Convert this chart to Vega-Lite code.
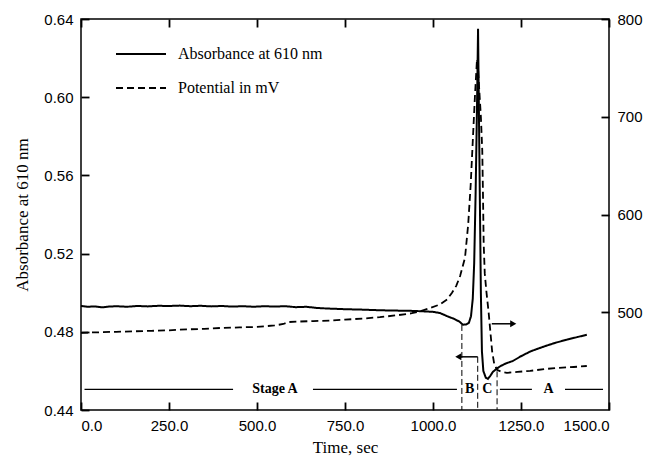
{
"$schema": "https://vega.github.io/schema/vega-lite/v6.json",
"width": 528, "height": 391, "autosize": "none",
"padding": {"left": 81, "top": 19, "right": 39, "bottom": 49},
"config": {
  "view": {"stroke": "black", "strokeWidth": 1.5},
  "axis": {"grid": false, "domain": false, "offset": -8,
           "labelFont": "Liberation Sans", "labelFontSize": 15, "labelColor": "black", "labelPadding": 8,
           "titleFont": "Liberation Serif", "titleFontSize": 17, "titleFontWeight": "normal", "titleColor": "black"},
  "legend": {"padding": 0}
},
"datasets": {
  "abs": [
    {"t":0,"a":0.4932},{"t":20,"a":0.4928},{"t":40,"a":0.4930},{"t":60,"a":0.4925},{"t":80,"a":0.4929},{"t":100,"a":0.4931},{"t":130,"a":0.4928},{"t":160,"a":0.4932},{"t":190,"a":0.4930},{"t":220,"a":0.4933},{"t":250,"a":0.4932},{"t":280,"a":0.4934},{"t":310,"a":0.4931},{"t":340,"a":0.4933},{"t":370,"a":0.4930},{"t":400,"a":0.4932},{"t":430,"a":0.4929},{"t":460,"a":0.4931},{"t":490,"a":0.4928},{"t":520,"a":0.4931},{"t":550,"a":0.4929},{"t":580,"a":0.4931},{"t":610,"a":0.4926},{"t":640,"a":0.4928},{"t":670,"a":0.4922},{"t":700,"a":0.4919},{"t":730,"a":0.4917},{"t":760,"a":0.4915},{"t":790,"a":0.4914},{"t":820,"a":0.4912},{"t":850,"a":0.4910},{"t":880,"a":0.4909},{"t":910,"a":0.4908},{"t":940,"a":0.4907},{"t":970,"a":0.4905},{"t":1000,"a":0.4902},{"t":1020,"a":0.4896},{"t":1040,"a":0.4880},{"t":1060,"a":0.4866},{"t":1075,"a":0.4852},{"t":1085,"a":0.4836},{"t":1095,"a":0.4838},{"t":1102,"a":0.4846},{"t":1108,"a":0.4880},{"t":1113,"a":0.4970},{"t":1117,"a":0.5150},{"t":1121,"a":0.5500},{"t":1125,"a":0.5950},{"t":1128,"a":0.6350},{"t":1130,"a":0.6000},{"t":1133,"a":0.5500},{"t":1136,"a":0.5000},{"t":1139,"a":0.4700},{"t":1143,"a":0.4600},{"t":1150,"a":0.4565},{"t":1156,"a":0.4559},{"t":1163,"a":0.4575},{"t":1170,"a":0.4595},{"t":1180,"a":0.4610},{"t":1192,"a":0.4625},{"t":1207,"a":0.4638},{"t":1227,"a":0.4651},{"t":1250,"a":0.4675},{"t":1276,"a":0.4699},{"t":1300,"a":0.4715},{"t":1324,"a":0.4730},{"t":1350,"a":0.4745},{"t":1381,"a":0.4760},{"t":1410,"a":0.4773},{"t":1437,"a":0.4785}
  ],
  "pot": [
    {"t":0,"v":479},{"t":50,"v":479.5},{"t":100,"v":480},{"t":150,"v":480.5},{"t":200,"v":481},{"t":250,"v":481.5},{"t":300,"v":482.5},{"t":350,"v":483},{"t":400,"v":484},{"t":450,"v":484.5},{"t":500,"v":485},{"t":550,"v":486.5},{"t":575,"v":488},{"t":590,"v":490},{"t":620,"v":490.5},{"t":660,"v":491},{"t":707,"v":491.5},{"t":750,"v":492.5},{"t":800,"v":493.5},{"t":849,"v":495},{"t":900,"v":497},{"t":940,"v":499},{"t":963,"v":501},{"t":990,"v":504},{"t":1020,"v":508},{"t":1040,"v":513},{"t":1054,"v":520},{"t":1066,"v":527},{"t":1077,"v":537},{"t":1091,"v":556},{"t":1100,"v":590},{"t":1107,"v":630},{"t":1113,"v":675},{"t":1119,"v":720},{"t":1125,"v":759},{"t":1127,"v":755},{"t":1131,"v":730},{"t":1136,"v":700},{"t":1140,"v":665},{"t":1142,"v":620},{"t":1144,"v":570},{"t":1147,"v":540},{"t":1152,"v":520},{"t":1158,"v":500},{"t":1163,"v":480},{"t":1168,"v":460},{"t":1174,"v":447},{"t":1182,"v":441},{"t":1195,"v":439},{"t":1210,"v":438},{"t":1240,"v":439},{"t":1276,"v":440},{"t":1320,"v":442},{"t":1352,"v":443},{"t":1400,"v":444},{"t":1437,"v":445}
  ],
  "segs": [
    {"t1":10,"t2":432,"a":0.4505},{"t1":659,"t2":1068,"a":0.4505},{"t1":1190,"t2":1281,"a":0.4505},{"t1":1375,"t2":1483,"a":0.4505}
  ],
  "vlines": [
    {"t":1082,"a1":0.4835,"a2":0.44},{"t":1127,"a1":0.4672,"a2":0.44},{"t":1182,"a1":0.4598,"a2":0.44}
  ],
  "arrows": [
    {"t1":1127,"t2":1072,"a":0.4672,"dir":"triangle-left"},{"t1":1167,"t2":1228,"a":0.4841,"dir":"triangle-right"}
  ],
  "labels": [
    {"t":551,"a":0.4505,"txt":"Stage A"},{"t":1104,"a":0.4505,"txt":"B"},{"t":1154,"a":0.4505,"txt":"C"},{"t":1328,"a":0.4505,"txt":"A"}
  ]
},
"layer": [
  {"layer": [
    {"data": {"name": "abs"}, "transform": [{"calculate": "'Absorbance at 610 nm'", "as": "series"}],
     "mark": {"type": "line", "color": "black", "strokeWidth": 2},
     "encoding": {
       "x": {"field": "t", "type": "quantitative", "scale": {"domain": [0, 1500], "nice": false},
             "axis": {"values": [0,250,500,750,1000,1250,1500], "format": ".1f", "title": "Time, sec", "titlePadding": 6,
                      "ticks": true, "tickSize": 8, "tickColor": "black", "tickWidth": 1.8, "tickOpacity": 1, "zindex": 1}},
       "y": {"field": "a", "type": "quantitative", "scale": {"domain": [0.44, 0.64], "nice": false, "zero": false},
             "axis": {"values": [0.44,0.48,0.52,0.56,0.60,0.64], "format": ".2f", "title": "Absorbance at 610 nm", "titlePadding": 12,
                      "ticks": true, "tickSize": 8, "tickColor": "black", "tickWidth": 1.8, "tickOpacity": 1, "zindex": 1}},
       "strokeDash": {"field": "series", "type": "nominal",
         "scale": {"domain": ["Absorbance at 610 nm", "Potential in mV"], "range": [[1,0],[7,4]]},
         "legend": {"title": null, "orient": "none", "legendX": 34, "legendY": 9, "symbolType": "stroke", "symbolSize": 2500,
                    "symbolStrokeWidth": 2, "symbolStrokeColor": "black", "labelFont": "Liberation Serif", "labelFontSize": 16,
                    "labelColor": "black", "labelOffset": 11, "rowPadding": 0}}
     }},
    {"data": {"name": "segs"}, "mark": {"type": "rule", "color": "black", "strokeWidth": 1.2},
     "encoding": {"x": {"field": "t1", "type": "quantitative"}, "x2": {"field": "t2"}, "y": {"field": "a", "type": "quantitative"}}},
    {"data": {"name": "vlines"}, "mark": {"type": "rule", "color": "black", "strokeWidth": 1, "strokeDash": [6,3]},
     "encoding": {"x": {"field": "t", "type": "quantitative"}, "y": {"field": "a1", "type": "quantitative"}, "y2": {"field": "a2"}}},
    {"data": {"name": "arrows"}, "mark": {"type": "rule", "color": "black", "strokeWidth": 1.5},
     "encoding": {"x": {"field": "t1", "type": "quantitative"}, "x2": {"field": "t2"}, "y": {"field": "a", "type": "quantitative"}}},
    {"data": {"name": "arrows"}, "mark": {"type": "point", "filled": true, "color": "black", "size": 50, "opacity": 1},
     "encoding": {"x": {"field": "t2", "type": "quantitative"}, "y": {"field": "a", "type": "quantitative"},
                  "shape": {"field": "dir", "type": "nominal", "scale": null}}},
    {"data": {"name": "labels"}, "mark": {"type": "text", "font": "Liberation Serif", "fontSize": 14, "fontWeight": "bold", "color": "black"},
     "encoding": {"x": {"field": "t", "type": "quantitative"}, "y": {"field": "a", "type": "quantitative"}, "text": {"field": "txt"}}}
  ]},
  {"data": {"name": "pot"}, "transform": [{"calculate": "'Potential in mV'", "as": "series"}],
   "mark": {"type": "line", "color": "black", "strokeWidth": 1.8},
   "encoding": {
     "x": {"field": "t", "type": "quantitative", "axis": {"orient": "top", "labels": false, "values": [0,250,500,750,1000,1250,1500], "title": null,
                      "ticks": true, "tickSize": 8, "tickColor": "black", "tickWidth": 1.8, "tickOpacity": 1, "zindex": 1}},
     "y": {"field": "v", "type": "quantitative", "scale": {"domain": [400, 800], "nice": false, "zero": false},
           "axis": {"orient": "right", "values": [500,600,700,800], "title": null,
                    "ticks": true, "tickSize": 8, "tickColor": "black", "tickWidth": 1.8, "tickOpacity": 1, "zindex": 1}},
     "strokeDash": {"field": "series", "type": "nominal"}
   }}
],
"resolve": {"scale": {"y": "independent"}, "axis": {"x": "independent"}}
}
